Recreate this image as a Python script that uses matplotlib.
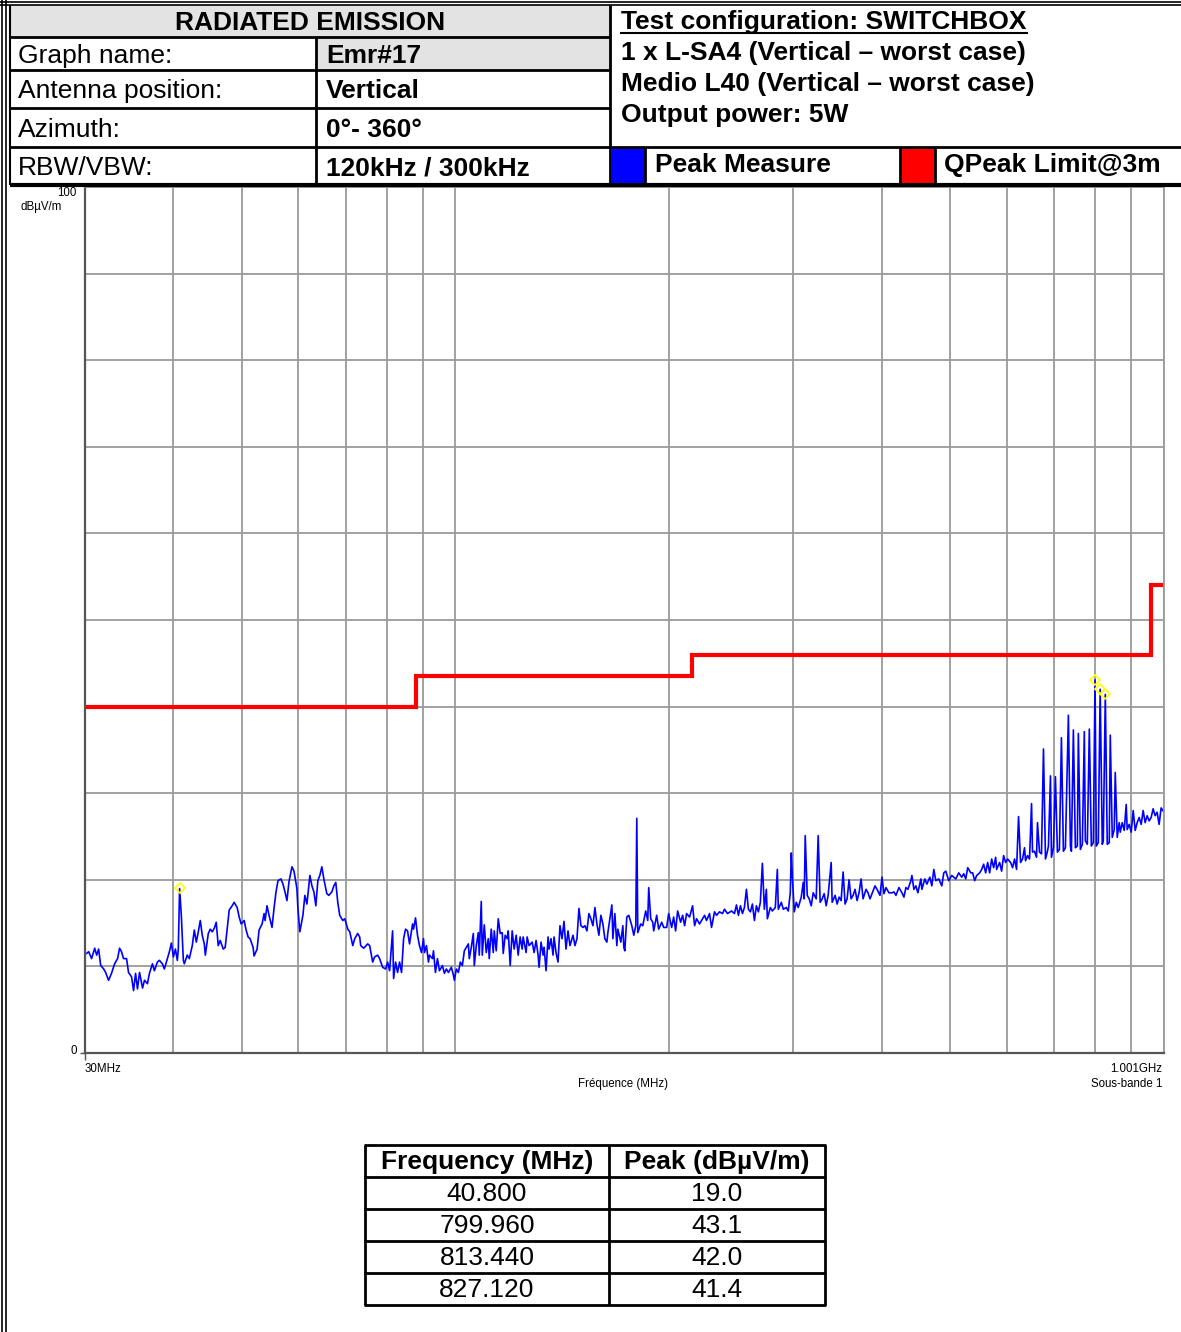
import numpy as np
import matplotlib
matplotlib.use("Agg")
import matplotlib.pyplot as plt
from matplotlib.patches import Rectangle
from matplotlib.lines import Line2D
from matplotlib.ticker import LogLocator, MultipleLocator

plt.rcParams['font.family'] = ['Liberation Sans', 'DejaVu Sans']

W, H = 1181, 1332

# peak trace (MHz, dBuV/m)
freq_mhz = [
    30.16, 30.36, 30.65, 30.96, 31.16, 31.36, 31.57, 31.88, 32.08, 32.39,
    32.70, 33.03, 33.35, 33.57, 33.78, 34.00, 34.34, 34.56, 34.90, 35.13,
    35.36, 35.58, 35.82, 36.17, 36.40, 36.75, 36.99, 37.35, 37.59, 37.96,
    38.21, 38.58, 38.83, 39.22, 39.47, 39.73, 39.99, 40.25, 40.50, 40.63,
    40.80, 41.03, 41.30, 41.43, 41.83, 42.11, 42.52, 42.80, 43.08, 43.36,
    43.64, 43.92, 44.21, 44.36, 44.79, 45.08, 45.37, 45.67, 45.96, 46.26,
    46.56, 47.02, 47.32, 47.62, 47.94, 48.40, 48.72, 49.20, 49.52, 49.84,
    50.33, 50.65, 50.98, 51.31, 51.81, 51.98, 52.49, 52.83, 53.35, 53.70,
    53.87, 54.21, 54.57, 55.10, 55.46, 55.82, 56.18, 56.73, 57.10, 57.47,
    57.84, 58.23, 58.79, 59.18, 59.74, 59.94, 60.32, 60.92, 61.31, 61.72,
    62.32, 62.73, 63.14, 63.54, 63.95, 64.37, 64.79, 65.21, 65.84, 66.27,
    66.92, 67.36, 67.79, 68.23, 68.67, 69.35, 69.80, 70.49, 70.94, 71.64,
    72.10, 72.80, 73.27, 73.51, 74.23, 75.20, 75.68, 76.43, 76.92, 77.67,
    78.17, 78.94, 79.71, 80.23, 80.75, 81.54, 81.81, 82.34, 82.88, 83.41,
    83.95, 84.51, 85.05, 85.60, 86.16, 87.01, 87.29, 87.85, 88.42, 88.99,
    89.57, 90.16, 90.45, 91.03, 91.63, 91.92, 92.83, 93.13, 93.73, 94.34,
    94.95, 95.89, 96.50, 97.12, 97.76, 98.71, 99.36, 99.68, 100.32, 100.98,
    101.63, 102.30, 102.96, 103.63, 104.30, 104.63, 105.31, 106.01, 106.35, 107.04,
    107.74, 108.08, 108.78, 109.14, 109.85, 110.56, 111.29, 111.64, 112.37, 113.11,
    113.47, 114.20, 114.96, 115.70, 116.46, 116.83, 117.59, 118.35, 118.74, 119.51,
    120.29, 121.07, 121.85, 122.65, 123.44, 124.25, 124.65, 125.86, 126.28, 127.09,
    128.35, 129.17, 130.00, 130.86, 131.27, 132.13, 133.00, 133.43, 134.29, 135.17,
    135.60, 136.48, 137.38, 137.82, 138.70, 139.61, 140.51, 141.44, 142.35, 143.28,
    144.22, 145.15, 146.58, 147.52, 148.48, 149.44, 150.41, 151.40, 152.38, 153.37,
    154.36, 155.37, 156.39, 157.40, 158.42, 159.45, 160.49, 161.54, 162.58, 163.64,
    164.17, 165.23, 166.32, 166.86, 167.94, 169.03, 169.59, 171.23, 172.36, 172.91,
    173.47, 174.60, 175.73, 177.46, 178.61, 179.76, 180.35, 180.94, 182.69, 183.89,
    185.68, 186.89, 187.49, 188.71, 189.95, 190.56, 192.41, 193.66, 195.57, 196.83,
    198.75, 200.04, 202.01, 203.32, 204.62, 205.97, 207.97, 209.33, 210.69, 212.06,
    214.12, 216.23, 217.63, 219.05, 221.18, 223.36, 224.80, 226.26, 228.46, 229.97,
    232.20, 233.71, 235.98, 238.31, 239.85, 242.20, 245.37, 247.75, 249.36, 250.97,
    252.61, 254.27, 255.91, 257.57, 259.24, 260.93, 262.64, 264.34, 266.06, 267.78,
    269.52, 271.29, 273.04, 274.81, 275.72, 278.39, 280.22, 282.94, 284.80, 285.71,
    288.53, 290.39, 293.22, 295.12, 297.04, 298.03, 298.99, 300.92, 302.88, 304.83,
    307.84, 309.83, 310.83, 311.83, 313.88, 315.90, 317.98, 320.03, 323.16, 325.24,
    327.36, 329.51, 331.64, 333.80, 335.95, 339.27, 340.36, 343.67, 345.93, 348.15,
    350.45, 352.71, 354.98, 357.32, 359.62, 361.99, 364.32, 366.67, 369.08, 371.46,
    373.91, 376.32, 379.99, 382.45, 384.94, 387.47, 391.23, 393.80, 397.62, 400.24,
    402.82, 405.44, 409.39, 413.41, 416.09, 418.79, 422.87, 427.03, 429.79, 432.58,
    435.38, 439.68, 441.09, 443.95, 446.84, 449.72, 454.16, 455.63, 460.04, 463.06,
    467.56, 470.63, 473.67, 476.75, 481.39, 486.13, 489.27, 492.45, 497.24, 502.14,
    508.67, 513.63, 518.68, 522.03, 525.42, 528.82, 534.04, 537.48, 540.95, 544.50,
    549.79, 553.40, 556.98, 560.60, 564.22, 567.90, 571.63, 575.33, 579.07, 580.97,
    586.61, 590.46, 594.28, 598.14, 602.01, 607.95, 611.87, 615.81, 619.87, 623.86,
    627.97, 632.02, 636.10, 638.19, 642.31, 646.50, 650.75, 652.84, 657.05, 661.37,
    663.46, 667.79, 672.18, 676.52, 680.92, 685.31, 687.55, 692.08, 694.31, 698.80,
    703.34, 707.88, 712.50, 717.18, 721.82, 726.51, 733.59, 738.42, 740.80, 745.59,
    750.44, 755.28, 757.74, 762.74, 767.66, 772.61, 775.16, 780.16, 785.24, 790.41,
    795.51, 799.96, 803.31, 808.48, 813.44, 819.06, 821.71, 827.12, 832.39, 837.82,
    840.61, 846.03, 851.50, 854.30, 859.81, 865.42, 868.30, 873.90, 879.54, 885.32,
    888.13, 893.91, 899.79, 905.61, 911.50, 917.38, 923.36, 929.43, 935.43, 941.51,
    947.59, 953.76, 960.03, 966.24, 972.52, 978.80, 985.18, 991.65, 1001.0,
]
level_dbuv = [
    11.5, 11.7, 10.9, 12.1, 11.3, 12.0, 10.1, 9.7, 9.3, 8.4,
    9.2, 10.3, 10.9, 12.1, 11.7, 10.9, 10.9, 9.3, 8.8, 7.2,
    9.2, 7.4, 9.3, 7.5, 8.4, 8.0, 9.2, 10.3, 9.5, 10.5,
    10.7, 10.3, 9.7, 10.9, 11.7, 12.7, 11.1, 12.0, 10.7, 12.0,
    19.0, 15.9, 10.7, 10.3, 11.3, 10.9, 12.4, 14.2, 12.8, 14.0,
    15.3, 13.6, 12.6, 11.3, 13.8, 14.3, 14.0, 14.4, 15.1, 12.4,
    13.0, 12.0, 12.2, 14.3, 16.5, 17.0, 17.4, 16.8, 15.7, 14.9,
    15.3, 14.2, 13.4, 13.2, 12.2, 11.2, 12.0, 14.2, 14.9, 16.1,
    15.3, 17.0, 15.9, 14.5, 16.7, 18.6, 19.9, 20.1, 19.5, 18.6,
    17.6, 19.8, 21.5, 21.0, 19.0, 16.7, 14.0, 15.9, 18.2, 17.2,
    20.5, 19.3, 18.6, 17.0, 19.9, 20.5, 21.5, 20.1, 18.4, 18.2,
    18.6, 19.3, 19.7, 17.4, 15.9, 15.3, 15.5, 14.3, 14.0, 12.4,
    13.2, 13.8, 13.4, 12.4, 12.1, 12.6, 12.4, 10.5, 11.1, 11.3,
    10.9, 9.9, 9.7, 10.5, 9.5, 14.1, 8.6, 10.5, 9.3, 10.5,
    9.3, 13.2, 14.3, 14.1, 12.6, 14.9, 14.3, 15.6, 13.6, 12.4,
    11.6, 13.2, 11.6, 12.4, 10.5, 11.3, 10.9, 11.8, 9.3, 10.9,
    9.5, 10.1, 9.2, 9.7, 9.3, 9.9, 9.0, 8.4, 9.7, 9.3,
    10.5, 10.1, 11.8, 12.2, 12.6, 10.9, 12.2, 13.8, 10.1, 12.4,
    13.9, 11.3, 17.5, 11.3, 14.8, 11.6, 13.2, 10.9, 14.3, 11.6,
    14.1, 11.8, 15.5, 13.8, 13.9, 11.5, 13.6, 13.2, 14.1, 10.1,
    14.1, 12.0, 13.6, 11.3, 13.4, 12.0, 13.4, 11.6, 13.4, 12.4,
    12.8, 11.6, 13.0, 11.3, 9.9, 12.8, 11.3, 12.2, 9.5, 13.4,
    12.0, 13.2, 11.3, 13.4, 11.6, 10.5, 14.7, 13.2, 15.2, 12.0,
    14.1, 12.4, 13.6, 12.4, 13.2, 16.7, 14.7, 14.5, 14.7, 14.1,
    16.1, 15.5, 14.7, 16.8, 14.9, 13.6, 15.9, 14.9, 13.2, 12.8,
    13.9, 15.5, 17.1, 13.2, 16.1, 12.4, 14.3, 12.8, 14.7, 12.2,
    11.8, 15.7, 15.9, 14.7, 13.6, 14.7, 27.1, 13.9, 14.9, 14.7,
    16.4, 15.3, 19.1, 15.5, 15.1, 14.1, 15.9, 14.3, 15.1, 14.5,
    14.5, 16.1, 14.5, 15.7, 14.1, 16.4, 15.1, 15.9, 14.7, 16.1,
    15.7, 17.0, 14.7, 15.5, 14.9, 15.5, 15.9, 15.3, 16.1, 14.5,
    16.3, 15.9, 16.3, 16.1, 16.6, 16.1, 16.4, 16.1, 17.1, 15.9,
    17.0, 16.1, 16.8, 18.9, 16.6, 16.3, 17.2, 15.3, 17.0, 16.3,
    17.4, 21.9, 16.6, 18.9, 15.5, 16.8, 16.4, 16.8, 21.2, 16.6,
    17.4, 16.6, 16.8, 16.4, 18.5, 23.1, 20.5, 16.3, 17.4, 16.8,
    18.0, 19.7, 17.8, 25.1, 18.2, 17.8, 17.0, 18.5, 17.8, 25.1,
    17.4, 17.8, 18.4, 17.0, 18.2, 22.0, 17.4, 18.2, 17.2, 18.0,
    17.6, 20.9, 17.2, 17.8, 20.0, 17.8, 18.2, 18.9, 17.6, 18.5,
    20.1, 17.8, 18.9, 18.5, 17.8, 18.4, 19.3, 18.9, 18.2, 20.3,
    18.4, 19.1, 18.5, 18.5, 18.6, 18.2, 19.1, 18.5, 18.0, 19.1,
    18.9, 19.9, 20.5, 18.9, 19.3, 18.5, 20.1, 18.9, 20.1, 19.5,
    20.3, 19.3, 21.2, 19.9, 20.1, 19.3, 20.8, 21.0, 19.9, 20.5,
    20.1, 20.8, 20.3, 20.7, 20.1, 21.4, 20.8, 20.8, 19.9, 20.5,
    20.8, 21.2, 21.8, 20.8, 22.0, 20.8, 22.4, 21.4, 22.6, 21.2,
    22.0, 21.0, 22.8, 22.0, 22.4, 22.0, 21.4, 22.4, 21.2, 27.3,
    22.0, 22.4, 23.7, 22.2, 22.8, 22.4, 28.8, 23.2, 23.3, 22.6,
    26.6, 23.2, 23.0, 35.1, 22.4, 23.3, 23.9, 32.0, 22.6, 23.7,
    31.9, 23.2, 23.5, 36.4, 23.3, 23.7, 39.0, 23.9, 23.3, 37.3,
    23.7, 23.9, 36.9, 23.5, 24.1, 37.1, 24.5, 24.1, 37.4, 23.9,
    24.3, 43.1, 23.9, 24.3, 42.0, 24.1, 24.5, 41.4, 24.1, 24.3,
    36.7, 24.9, 25.8, 32.4, 24.9, 26.6, 25.5, 26.6, 25.7, 28.7,
    25.8, 26.4, 25.5, 28.0, 25.7, 26.6, 27.2, 26.4, 28.0, 26.6,
    27.4, 26.8, 27.2, 28.2, 27.4, 27.8, 26.4, 28.3, 27.8,
]

# QPeak limit @3m (step function)
limit_freq = [30, 88, 88, 216, 216, 960, 960, 1001]
limit_level = [40, 40, 43.5, 43.5, 46, 46, 54, 54]

# marked peaks (also listed in the table)
peak_freq = [40.800, 799.960, 813.440, 827.120]
peak_level = [19.0, 43.1, 42.0, 41.4]
peak_freq_txt = ["40.800", "799.960", "813.440", "827.120"]
peak_level_txt = ["19.0", "43.1", "42.0", "41.4"]


def fx(x):
    return x / W


def fy(y):
    return 1 - y / H


def hline(fig, x0, x1, y, lw=2, color='black'):
    fig.add_artist(Line2D([fx(x0), fx(x1)], [fy(y), fy(y)], lw=lw, color=color,
                          solid_capstyle='butt'))


def vline(fig, x, y0, y1, lw=2, color='black'):
    fig.add_artist(Line2D([fx(x), fx(x)], [fy(y0), fy(y1)], lw=lw, color=color,
                          solid_capstyle='butt'))


def box(fig, x0, y0, x1, y1, color):
    fig.add_artist(Rectangle((fx(x0), fy(y1)), fx(x1) - fx(x0), fy(y0) - fy(y1),
                             facecolor=color, edgecolor='none'))


def txt(fig, x, y, s, size=19, weight='normal', ha='left', va='center'):
    return fig.text(fx(x), fy(y), s, fontsize=size, fontweight=weight, ha=ha, va=va)


fig = plt.figure(figsize=(W / 100, H / 100), dpi=100)

# ---- header table ----
box(fig, 10, 5, 610, 37, '#e3e3e3')
box(fig, 316, 37, 610, 70, '#e3e3e3')
box(fig, 612, 148, 645, 184, '#0000ff')
box(fig, 900, 148, 935, 184, '#ff0000')

hline(fig, 0, W, 1.5, lw=1.2)
hline(fig, 0, W, 5, lw=1.2)
vline(fig, 2, 0, H, lw=1.2)
vline(fig, 6, 0, H, lw=1.2)
vline(fig, 10, 5, 185, lw=1.5)
for y in [37, 70, 108]:
    hline(fig, 10, 610, y)
hline(fig, 10, W, 147)
hline(fig, 10, W, 185, lw=3)
vline(fig, 316, 37, 185)
vline(fig, 610, 5, 185)
vline(fig, 645, 147, 185)
vline(fig, 900, 147, 185)
vline(fig, 935, 147, 185)

hdr = 19
txt(fig, 310, 23, "RADIATED EMISSION", hdr, 'bold', ha='center')
rows = [("Graph name:", "Emr#17", 56), ("Antenna position:", "Vertical", 91),
        ("Azimuth:", "0°- 360°", 130), ("RBW/VBW:", "120kHz / 300kHz", 168)]
for lab, val, y in rows:
    txt(fig, 18, y, lab, hdr)
    txt(fig, 326, y, val, hdr, 'bold')

title_txt = txt(fig, 621, 22, "Test configuration: SWITCHBOX", hdr, 'bold')
txt(fig, 621, 53, "1 x L-SA4 (Vertical \u2013 worst case)", hdr, 'bold')
txt(fig, 621, 84, "Medio L40 (Vertical \u2013 worst case)", hdr, 'bold')
txt(fig, 621, 115, "Output power: 5W", hdr, 'bold')
txt(fig, 655, 165, "Peak Measure", hdr, 'bold')
txt(fig, 944, 165, "QPeak Limit@3m", hdr, 'bold')

# ---- chart ----
ax = fig.add_axes([fx(85), fy(1053), (1164 - 85) / W, (1053 - 187) / H])
ax.set_xscale('log')
ax.set_xlim(30, 1001)
ax.set_ylim(0, 100)
ax.xaxis.set_major_locator(LogLocator(base=10, subs=np.arange(1, 10), numticks=50))
ax.xaxis.set_minor_locator(LogLocator(base=10, subs=[], numticks=50))
ax.yaxis.set_major_locator(MultipleLocator(10))
ax.grid(True, color='#9a9a9a', lw=1.3)
ax.tick_params(length=0, labelbottom=False, labelleft=False, which='both')
ax.set_axisbelow(True)
for side in ['top', 'right']:
    ax.spines[side].set_color('#9a9a9a')
    ax.spines[side].set_linewidth(1.3)
for side in ['left', 'bottom']:
    ax.spines[side].set_color('#555555')
    ax.spines[side].set_linewidth(1.6)

ax.plot(limit_freq, limit_level, color='#ff0000', lw=3, solid_joinstyle='miter')
ax.plot(freq_mhz, level_dbuv, color='#0000ff', lw=1.2)
ax.plot(peak_freq, peak_level, linestyle='none', marker='D', markersize=5,
        markerfacecolor='none', markeredgecolor='#ffff00', markeredgewidth=1.2)

small = 8.3
txt(fig, 77, 193, "100", small, ha='right')
txt(fig, 62, 207, "dB\u00b5V/m", small, ha='right')
txt(fig, 77, 1051, "0", small, ha='right')
txt(fig, 85, 1069, "30MHz", small)
txt(fig, 1162, 1069, "1.001GHz", small, ha='right')
txt(fig, 623, 1084, "Fréquence (MHz)", small, ha='center')
txt(fig, 1162, 1084, "Sous-bande 1", small, ha='right')
vline(fig, 85, 1053, 1060, lw=1, color='#555555')
hline(fig, 80, 85, 1053, lw=1, color='#555555')

# ---- peak table ----
tx0, tx1, tx2 = 365, 609, 825
ty = [1145, 1177, 1209, 1241, 1273, 1305]
for y in ty:
    hline(fig, tx0 - 1, tx2 + 1, y)
for x in [tx0, tx1, tx2]:
    vline(fig, x, ty[0], ty[-1])
c1 = (tx0 + tx1) / 2
c2 = (tx1 + tx2) / 2
tbl = 19
txt(fig, c1, (ty[0] + ty[1]) / 2 + 1, "Frequency (MHz)", tbl, 'bold', ha='center')
txt(fig, c2, (ty[0] + ty[1]) / 2 + 1, "Peak (dB\u00b5V/m)", tbl, 'bold', ha='center')
for i in range(len(peak_freq_txt)):
    yc = (ty[i + 1] + ty[i + 2]) / 2 + 1
    txt(fig, c1, yc, peak_freq_txt[i], tbl, ha='center')
    txt(fig, c2, yc, peak_level_txt[i], tbl, ha='center')

# underline the test configuration title
fig.canvas.draw()
bb = title_txt.get_window_extent(fig.canvas.get_renderer())
fig.add_artist(Line2D([bb.x0 / W, bb.x1 / W], [(bb.y0 + 1) / H, (bb.y0 + 1) / H],
                      lw=1.5, color='black'))

fig.savefig("out.png", dpi=100)
